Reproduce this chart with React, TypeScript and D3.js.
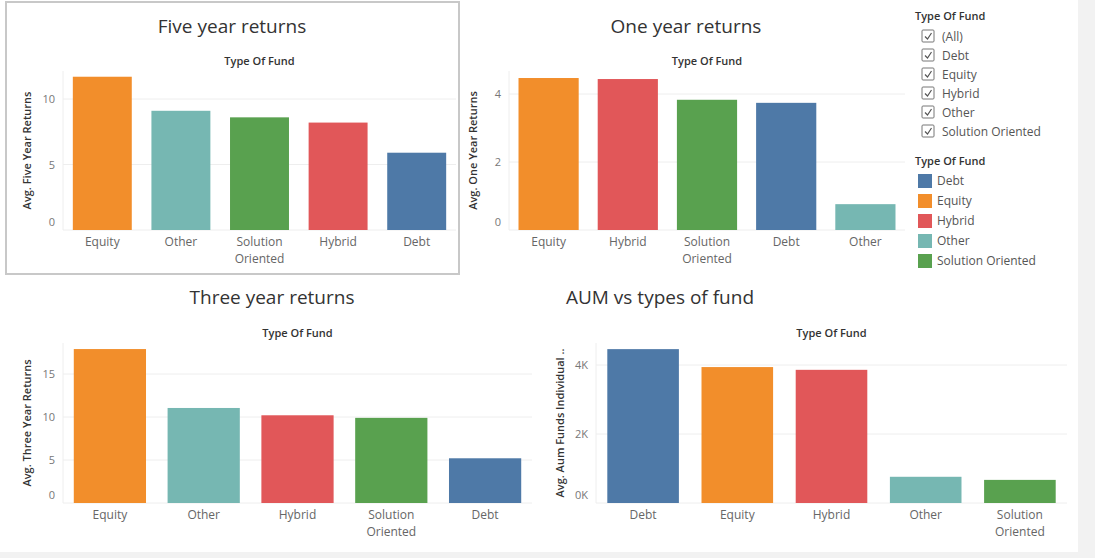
import React from "react";
import * as d3 from "d3";

const COLORS: Record<string, string> = {
  Debt: "#4e79a7",
  Equity: "#f28e2b",
  Hybrid: "#e15759",
  Other: "#76b7b2",
  "Solution Oriented": "#59a14f",
};

const fiveCats = ["Equity", "Other", "Solution Oriented", "Hybrid", "Debt"];
const fiveVals = [11.7, 9.1, 8.6, 8.2, 5.9];
const oneCats = ["Equity", "Hybrid", "Solution Oriented", "Debt", "Other"];
const oneVals = [4.47, 4.44, 3.83, 3.74, 0.76];
const threeCats = ["Equity", "Other", "Hybrid", "Solution Oriented", "Debt"];
const threeVals = [17.9, 11.05, 10.2, 9.9, 5.2];
const aumCats = ["Debt", "Equity", "Hybrid", "Other", "Solution Oriented"];
const aumVals = [4460, 3940, 3860, 760, 670];
const filterItems = ["(All)", "Debt", "Equity", "Hybrid", "Other", "Solution Oriented"];
const legendItems = ["Debt", "Equity", "Hybrid", "Other", "Solution Oriented"];

const FONT = "'Open Sans', Lato, sans-serif";

interface PanelProps {
  title: string;
  titleX: number;
  titleY: number;
  yLabel: string;
  cats: string[];
  vals: number[];
  x0: number;
  x1: number;
  y0: number; // baseline
  pxPerUnit: number;
  top: number;
  ticks: number[];
  fmt: (v: number) => string;
  padInner: number;
}

const Panel: React.FC<PanelProps> = ({
  title, titleX, titleY, yLabel, cats, vals, x0, x1, y0, pxPerUnit, top, ticks, fmt, padInner,
}) => {
  const x = d3.scaleBand<string>().domain(cats).range([x0, x1]).paddingInner(padInner).paddingOuter(padInner / 2);
  const maxV = (y0 - top) / pxPerUnit;
  const y = d3.scaleLinear().domain([0, maxV]).range([y0, top]);
  const mid = (x0 + x1) / 2;
  return (
    <g fontFamily={FONT}>
      <text x={titleX} y={titleY} textAnchor="middle" fontSize={19} fill="#333">{title}</text>
      <text x={mid} y={top - 6} textAnchor="middle" fontSize={11} fontWeight={600} fill="#333">Type Of Fund</text>
      {ticks.map((t) => (
        <g key={t}>
          <line x1={x0} x2={x1} y1={y(t)} y2={y(t)} stroke="#eee" />
          <text x={x0 - 8} y={y(t) - (t === 0 ? 4 : -4)} textAnchor="end" fontSize={11} fill="#777">{fmt(t)}</text>
        </g>
      ))}
      <line x1={x0} x2={x0} y1={top} y2={y0} stroke="#eee" />
      <text transform={`translate(${x0 - 32},${(top + y0) / 2}) rotate(-90)`} textAnchor="middle" fontSize={11} fontWeight={600} fill="#333">{yLabel}</text>
      {cats.map((c, i) => (
        <rect key={c} x={x(c)} width={x.bandwidth()} y={y(vals[i])} height={y0 - y(vals[i])} fill={COLORS[c]} />
      ))}
      {cats.map((c) => {
        const cx = (x(c) ?? 0) + x.bandwidth() / 2;
        const parts = c === "Solution Oriented" ? ["Solution", "Oriented"] : [c];
        return parts.map((p, j) => (
          <text key={c + p} x={cx} y={y0 + 16 + j * 17} textAnchor="middle" fontSize={12} fill="#666">{p}</text>
        ));
      })}
    </g>
  );
};

export default function App() {
  return (
    <svg width={1095} height={558} style={{ position: "absolute", left: 0, top: 0, background: "#fff" }}>
      <rect x={1078} y={0} width={17} height={558} fill="#f2f2f2" />
      <rect x={0} y={552} width={1095} height={6} fill="#f2f2f2" />
      <rect x={6} y={2} width={453} height={272} fill="none" stroke="#c8c8c8" strokeWidth={2} />
      <Panel title="Five year returns" titleX={232} titleY={33} yLabel="Avg. Five Year Returns"
        cats={fiveCats} vals={fiveVals} x0={63} x1={456} y0={230} pxPerUnit={13.1} top={71}
        ticks={[0, 5, 10]} fmt={(v) => `${v}`} padInner={0.25} />
      <Panel title="One year returns" titleX={686} titleY={33} yLabel="Avg. One Year Returns"
        cats={oneCats} vals={oneVals} x0={509} x1={905} y0={230} pxPerUnit={34} top={71}
        ticks={[0, 2, 4]} fmt={(v) => `${v}`} padInner={0.24} />
      <Panel title="Three year returns" titleX={272} titleY={304} yLabel="Avg. Three Year Returns"
        cats={threeCats} vals={threeVals} x0={63} x1={532} y0={503} pxPerUnit={8.6} top={343}
        ticks={[0, 5, 10, 15]} fmt={(v) => `${v}`} padInner={0.23} />
      <Panel title="AUM vs types of fund" titleX={660} titleY={304} yLabel="Avg. Aum Funds Individual .."
        cats={aumCats} vals={aumVals} x0={596} x1={1067} y0={503} pxPerUnit={0.0345} top={343}
        ticks={[0, 2000, 4000]} fmt={(v) => `${v / 1000}K`} padInner={0.24} />
      <g fontFamily={FONT} fontSize={12} fill="#333">
        <text x={915} y={20} fontWeight={600} fontSize={11}>Type Of Fund</text>
        {filterItems.map((f, i) => (
          <g key={f} transform={`translate(922,${30 + i * 19})`}>
            <rect x={0} y={0} width={12} height={12} fill="#fff" stroke="#777" rx={1} />
            <path d="M3,6.5 L5.5,9 L9.5,3" fill="none" stroke="#555" strokeWidth={1.2} />
            <text x={20} y={10.5} fill="#555">{f}</text>
          </g>
        ))}
        <text x={915} y={165} fontWeight={600} fontSize={11}>Type Of Fund</text>
        {legendItems.map((f, i) => (
          <g key={f} transform={`translate(918,${174 + i * 20})`}>
            <rect x={0} y={0} width={14} height={14} fill={COLORS[f]} />
            <text x={19} y={11} fill="#555">{f}</text>
          </g>
        ))}
      </g>
    </svg>
  );
}
